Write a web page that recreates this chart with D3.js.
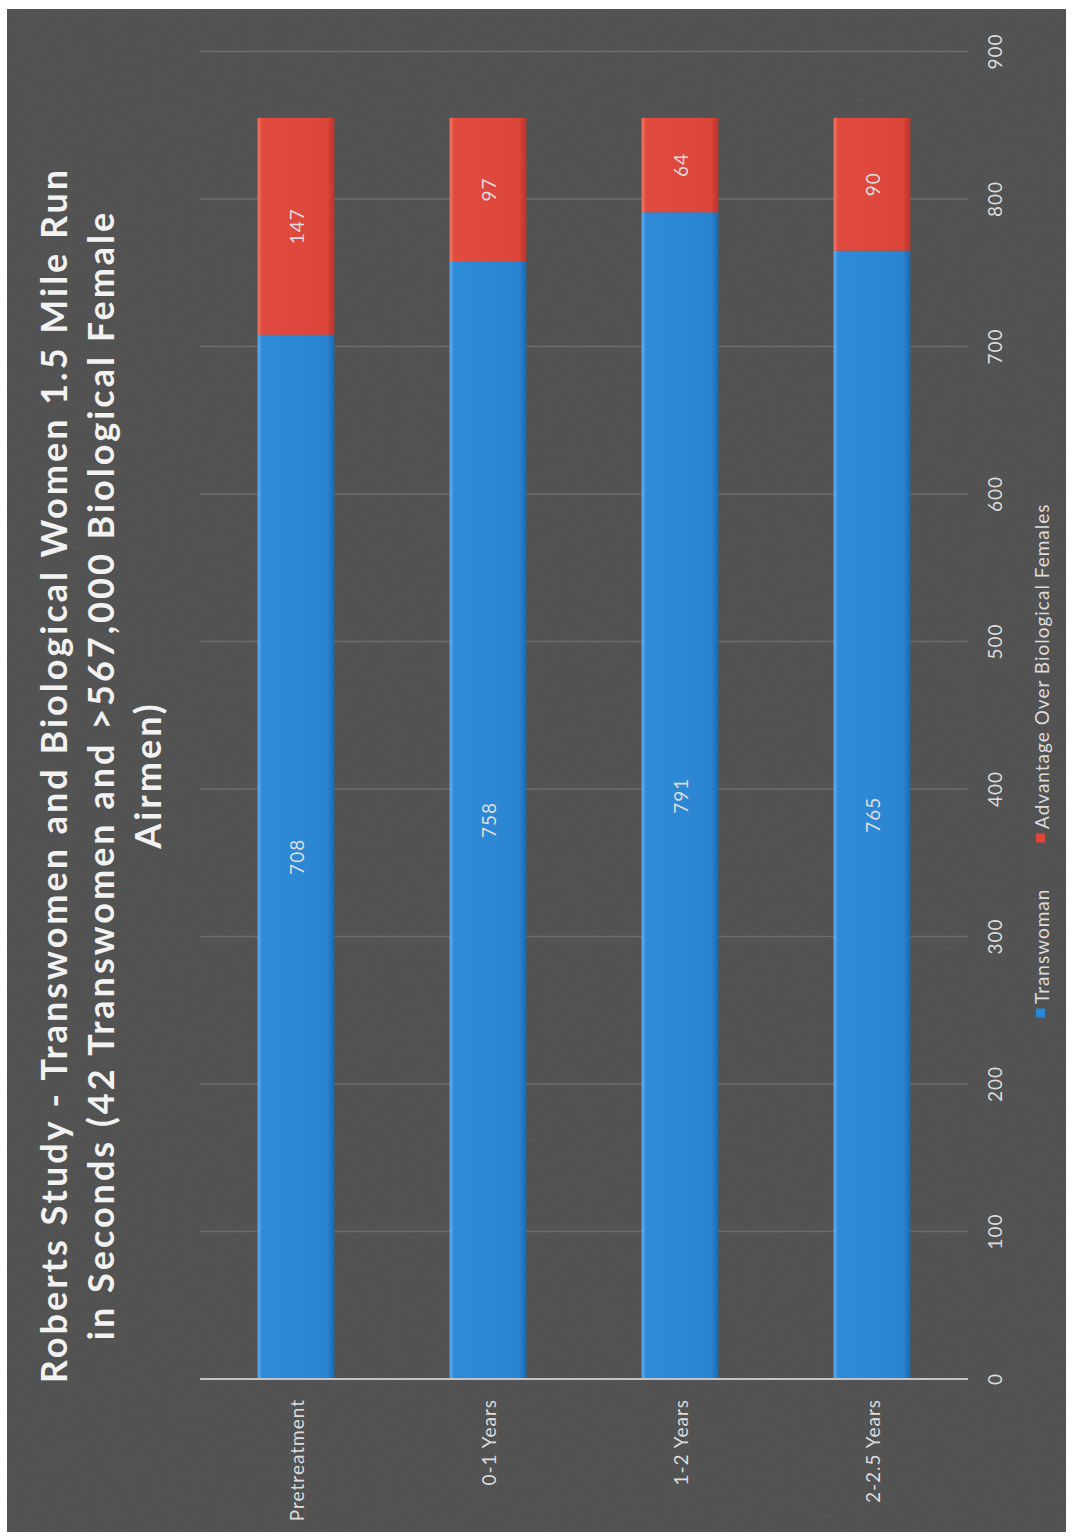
<!DOCTYPE html>
<html>
<head>
<meta charset="utf-8">
<script src="https://cdn.jsdelivr.net/npm/d3@7"></script>
<style>
  html, body { margin: 0; padding: 0; background: #ffffff; }
  svg { display: block; }
</style>
</head>
<body>
<svg id="chart" width="1073" height="1538"></svg>
<script>
// ---- data ----
const categories = ["Pretreatment", "0-1 Years", "1-2 Years", "2-2.5 Years"];
const transwoman = [708, 758, 791, 765];
const advantage = [147, 97, 64, 90];
const valueTicks = [0, 100, 200, 300, 400, 500, 600, 700, 800, 900];
const seriesNames = ["Transwoman", "Advantage Over Biological Females"];
const titleLines = [
  "Roberts Study - Transwomen and Biological Women 1.5 Mile Run",
  "in Seconds (42 Transwomen and >567,000 Biological Female",
  "Airmen)"
];

// ---- setup ----
const svg = d3.select("#chart");
const font = "Lato, 'Open Sans', sans-serif";
const textCol = "#dcdcdc";
const blue = "#2a87d8", red = "#e0473b";

const defs = svg.append("defs");
const noise = defs.append("filter").attr("id", "noise").attr("x", 0).attr("y", 0).attr("width", "100%").attr("height", "100%");
noise.append("feTurbulence").attr("type", "fractalNoise").attr("baseFrequency", 0.9).attr("numOctaves", 2).attr("seed", 3).attr("result", "t");
noise.append("feColorMatrix").attr("type", "matrix")
  .attr("values", "0 0 0 0 0.5  0 0 0 0 0.5  0 0 0 0 0.5  0 0 0 0.18 0");

function grad(id, stops) {
  const g = defs.append("linearGradient").attr("id", id).attr("x1", 0).attr("x2", 1).attr("y1", 0).attr("y2", 0);
  stops.forEach(s => g.append("stop").attr("offset", s[0]).attr("stop-color", s[1]));
}
grad("gBlue", [[0, "#64b0ee"], [0.06, "#2f8bd8"], [0.9, "#2a84d2"], [1, "#1d68ad"]]);
grad("gRed", [[0, "#f07868"], [0.06, "#e24c40"], [0.9, "#dc4539"], [1, "#b8372e"]]);

// dark panel
svg.append("rect").attr("x", 7).attr("y", 9).attr("width", 1059).attr("height", 1523).attr("fill", "#4d4d4d");
svg.append("rect").attr("x", 7).attr("y", 9).attr("width", 1059).attr("height", 1523).attr("filter", "url(#noise)").attr("opacity", 0.6);

// scales
const y = d3.scaleLinear().domain([0, 900]).range([1379, 51.5]);
const x = d3.scaleBand().domain(categories).range([200, 968]).paddingInner(0.6).paddingOuter(0.3);

// gridlines
svg.append("g").selectAll("line").data(valueTicks.filter(v => v > 0)).join("line")
  .attr("x1", 200).attr("x2", 968)
  .attr("y1", d => y(d)).attr("y2", d => y(d))
  .attr("stroke", "#6c6c6c").attr("stroke-width", 1.5);

// bars
const data = categories.map((c, i) => ({ c, t: transwoman[i], a: advantage[i] }));
const bars = svg.append("g");
bars.selectAll("rect.t").data(data).join("rect").attr("class", "t")
  .attr("x", d => x(d.c)).attr("width", x.bandwidth())
  .attr("y", d => y(d.t)).attr("height", d => y(0) - y(d.t))
  .attr("fill", "url(#gBlue)");
bars.selectAll("rect.a").data(data).join("rect").attr("class", "a")
  .attr("x", d => x(d.c)).attr("width", x.bandwidth())
  .attr("y", d => y(d.t + d.a)).attr("height", d => y(d.t) - y(d.t + d.a))
  .attr("fill", "url(#gRed)");

// data labels
function vlabel(sel, px, py, txt, size, anchor) {
  sel.append("text")
    .attr("transform", `translate(${px},${py}) rotate(-90)`)
    .attr("text-anchor", anchor || "middle")
    .attr("dominant-baseline", "central")
    .attr("font-family", font).attr("font-size", size)
    .attr("letter-spacing", 1)
    .attr("fill", textCol).text(txt);
}
const lbl = svg.append("g");
data.forEach(d => {
  const cx = x(d.c) + x.bandwidth() / 2;
  vlabel(lbl, cx, (y(0) + y(d.t)) / 2, d.t, 19);
  vlabel(lbl, cx, (y(d.t) + y(d.t + d.a)) / 2, d.a, 19);
});

// axis line
svg.append("line").attr("x1", 200).attr("x2", 968).attr("y1", y(0)).attr("y2", y(0))
  .attr("stroke", "#c4c4c4").attr("stroke-width", 2);

// value tick labels
const vt = svg.append("g");
valueTicks.forEach(v => vlabel(vt, 994, y(v), v, 19));

// category labels
const ct = svg.append("g");
categories.forEach(c => vlabel(ct, x(c) + x.bandwidth() / 2, 1399, c, 19, "end"));

// legend
const lg = svg.append("g");
const legendPos = [1013, 838];
const legendCols = [blue, red];
seriesNames.forEach((n, i) => {
  lg.append("rect").attr("x", 1036).attr("y", legendPos[i] - 4.5).attr("width", 9).attr("height", 9).attr("fill", legendCols[i]);
  vlabel(lg, 1041, legendPos[i] - 9, n, 19, "start");
});

// title
const tg = svg.append("g");
const baselines = [67, 114, 161];
titleLines.forEach((t, i) => {
  tg.append("text")
    .attr("transform", `translate(${baselines[i]},775) rotate(-90)`)
    .attr("text-anchor", "middle")
    .attr("font-family", font).attr("font-weight", "bold").attr("font-size", 36)
    .attr("letter-spacing", 3)
    .attr("fill", "#f2f2f2").text(t);
});
</script>
</body>
</html>
